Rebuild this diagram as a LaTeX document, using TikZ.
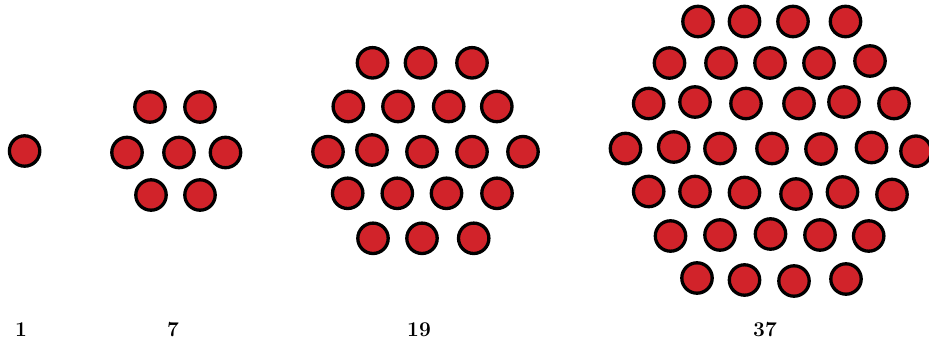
\documentclass[tikz,border=0pt]{standalone}
\usepackage{fontspec}
\begin{document}
\begin{tikzpicture}[x=1pt,y=-1pt,
  dot/.style={circle,draw=black,fill=dotred,line width=3.3pt,minimum size=30.4pt,inner sep=0pt},
  lab/.style={font=\fontsize{21}{24}\selectfont\bfseries,inner sep=0pt,anchor=base}]
\definecolor{dotred}{HTML}{D1232A}
\useasboundingbox (0,0) rectangle (929,344);
% 1
\node[dot] (p1) at (24.6,151) {};
% 7
\foreach \x/\y [count=\i] in {150/107,200/107,127/152.5,179/152.5,225.5/152.5,151/195,200/195}
  \node[dot] (s\i) at (\x,\y) {};
% 19
\foreach \x/\y [count=\i] in {372.5/62.8,420.5/62.8,472/62.8,
  348.3/106.5,398/106.5,448.7/106.5,496.8/106.5,
  328/151.7,372/150,422/151.7,472/151.7,523/151.7,
  347.7/193.3,397.3/193.3,446.5/193.3,497/193.3,
  373/238.3,422/238.3,473.7/238.3}
  \node[dot] (n\i) at (\x,\y) {};
% 37
\foreach \x/\y [count=\i] in {698/21.5,744.5/21.5,793/21.5,845.5/21.5,
  669.5/63,721/63,770/63,819/63,870/61,
  648.7/103.5,695/102,746/103.5,799/103.5,844/102,894/103.5,
  625.5/148.5,673.7/147,720/148.5,772/148.5,821/149,871.5/147.5,916/151.2,
  648.7/191.5,695/191.5,744.5/192.5,796/194,842.5/192,892/194.5,
  670.5/236,720/235,770.5/234,820/235,868.7/236,
  697/278,744.5/280,794/281,846/279}
  \node[dot] (t\i) at (\x,\y) {};
% labels
\node[lab] (l1) at (21,337) {1};
\node[lab] (l7) at (173,337) {7};
\node[lab] (l19) at (419,337) {19};
\node[lab] (l37) at (765,337) {37};
\end{tikzpicture}
\end{document}
